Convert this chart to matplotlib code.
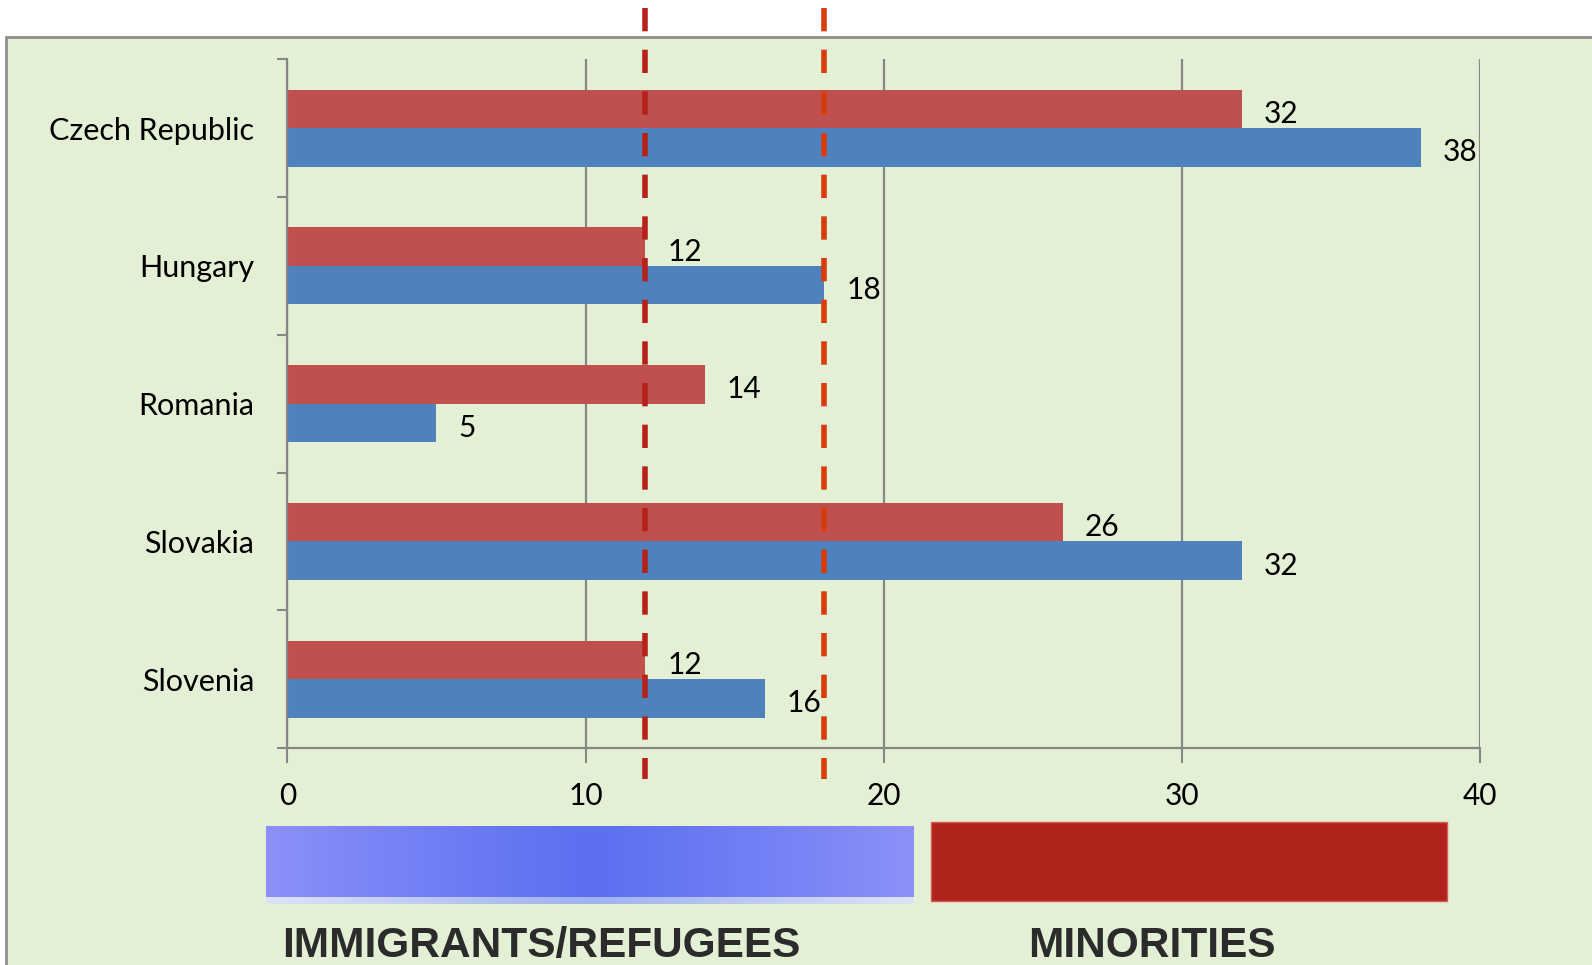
import numpy as np
import matplotlib.pyplot as plt
from matplotlib.patches import Rectangle

plt.rcParams["font.family"] = ["Lato", "DejaVu Sans"]

countries = ["Czech Republic", "Hungary", "Romania", "Slovakia", "Slovenia"]
minorities = [32, 12, 14, 26, 12]
immigrants = [38, 18, 5, 32, 16]
thresholds = [12, 18]
xticks = [0, 10, 20, 30, 40]

grey = "#878787"

fig = plt.figure(figsize=(15.92, 9.65), dpi=100)

# background layer in pixel coordinates
bg = fig.add_axes([0, 0, 1, 1])
bg.axis("off")
bg.add_patch(Rectangle((6, 37), 1700, 1000, fc="#E3F0D5", ec="#8E8E8E", lw=2, zorder=0))

# gradient box (immigrants/refugees)
t = np.abs(np.linspace(-1, 1, 400))[:, None] ** 1.1
edge = np.array([140, 144, 250]) / 255
mid = np.array([92, 112, 240]) / 255
grad = mid + (edge - mid) * t
bg.imshow(grad[None, :, :], extent=(266, 914, 897, 826), aspect="auto", zorder=2)
edge2 = np.array([222, 228, 246]) / 255
mid2 = np.array([160, 178, 240]) / 255
grad2 = mid2 + (edge2 - mid2) * t
bg.imshow(grad2[None, :, :], extent=(266, 914, 904, 897), aspect="auto", zorder=2)

# solid box (minorities)
bg.add_patch(Rectangle((931, 822), 516, 79, fc="#B0231D", ec="#D65A55", lw=1, zorder=2))

bg.text(282, 957, "IMMIGRANTS/REFUGEES", family="Liberation Sans", fontsize=30.5,
        fontweight="bold", color="#2B2B2B", va="baseline", ha="left")
bg.text(1028, 957, "MINORITIES", family="Liberation Sans", fontsize=30.5,
        fontweight="bold", color="#2B2B2B", va="baseline", ha="left")
bg.set_xlim(0, 1592)
bg.set_ylim(965, 0)

# main chart
ax = fig.add_axes([0.18047, 1 - 748 / 965, 0.74937, (748 - 59.3) / 965])
ax.patch.set_visible(False)

y = np.arange(len(countries))
h = 0.28
ax.barh(y - h / 2, minorities, height=h, color="#C0504D", zorder=2)
ax.barh(y + h / 2, immigrants, height=h, color="#4F81BD", zorder=2)

for yi, v in zip(y - h / 2, minorities):
    ax.annotate(str(v), (v, yi), xytext=(15.8, -10), textcoords="offset points",
                va="baseline", ha="left", fontsize=21.5)
for yi, v in zip(y + h / 2, immigrants):
    ax.annotate(str(v), (v, yi), xytext=(15.8, -10), textcoords="offset points",
                va="baseline", ha="left", fontsize=21.5)

ax.set_xlim(0, 40)
ax.set_ylim(4.5, -0.5)
ax.set_xticks(xticks)
ax.set_axisbelow(True)
ax.xaxis.grid(True, color=grey, lw=1.6)

ax.set_yticks(np.arange(-0.5, len(countries), 1))
ax.set_yticklabels([])
ax.set_yticks(y, minor=True)
ax.set_yticklabels(countries, minor=True)
ax.tick_params(axis="y", which="major", length=7.2, width=1.5, color=grey)
ax.tick_params(axis="y", which="minor", length=0, pad=24, labelsize=22)
ax.tick_params(axis="x", length=10.8, width=1.5, color=grey, pad=14, labelsize=21.5)

for s in ["top", "right"]:
    ax.spines[s].set_visible(False)
for s in ["left", "bottom"]:
    ax.spines[s].set_color(grey)
    ax.spines[s].set_linewidth(1.6)

# threshold lines
for xv, c in zip(thresholds, ["#B5211B", "#D63C0C"]):
    ax.plot([xv, xv], [1.074, -0.045], transform=ax.get_xaxis_transform(),
            color=c, lw=4, ls=(0, (4.2, 3.3)), clip_on=False, zorder=4)

fig.savefig("out.png", dpi=100)
